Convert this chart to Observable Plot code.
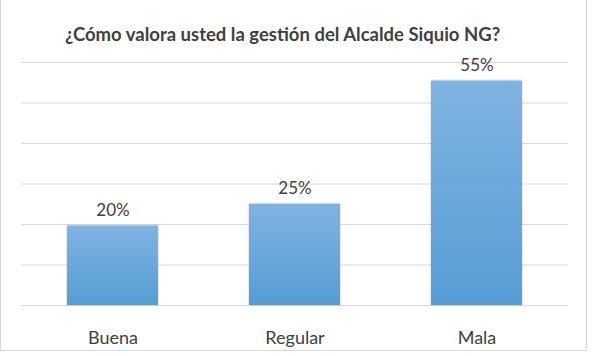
<!DOCTYPE html>
<html>
<head>
<meta charset="utf-8">
<script src="https://cdn.jsdelivr.net/npm/d3@7"></script>
<script src="https://cdn.jsdelivr.net/npm/@observablehq/plot@0.6"></script>
<style>
  html, body { margin: 0; padding: 0; background: #fff; }
  #wrap { position: relative; width: 595px; height: 356px; overflow: hidden; font-family: Lato, "Open Sans", sans-serif; }
  #frame { position: absolute; left: 0; top: 0; width: 587px; height: 351px; border: 1px solid #d9d9d9; border-top: none; box-sizing: border-box; }
  #title { position: absolute; left: 65px; top: 22px; height: 24px; line-height: 24px; font-weight: bold; font-size: 18.5px; color: #404040; white-space: nowrap; }
  #chart { position: absolute; left: 0; top: 50px; }
</style>
</head>
<body>
<div id="wrap">
  <div id="frame"></div>
  <div id="title">¿Cómo valora usted la gestión del Alcalde Siquio NG?</div>
  <div id="chart"></div>
</div>
<script>
const categories = ["Buena", "Regular", "Mala"];
const values = [19.6, 25, 55.4];
const labels = ["20%", "25%", "55%"];
const yTicks = [0, 10, 20, 30, 40, 50, 60];

const data = categories.map((c, i) => ({cat: c, value: values[i], label: labels[i]}));

const svg = Plot.plot({
  width: 595,
  height: 306,
  marginTop: 12,
  marginLeft: 21,
  marginRight: 27,
  marginBottom: 51,
  style: {fontFamily: "Lato, 'Open Sans', sans-serif", fontSize: "17px", color: "#404040", background: "transparent"},
  x: {domain: categories, paddingInner: 0.5, paddingOuter: 0.25, align: 0.5, label: null},
  y: {domain: [0, 60], axis: null},
  marks: [
    Plot.gridY(yTicks, {stroke: "#d9d9d9", strokeOpacity: 1, strokeWidth: 1}),
    Plot.barY(data, {x: "cat", y: "value", fill: "url(#barGrad)", filter: null, style: "filter: drop-shadow(0px 0px 1px rgba(0,0,0,0.25))"}),
    Plot.text(data, {x: "cat", y: "value", text: "label", lineAnchor: "bottom", dy: -10, fontSize: 17, fill: "#404040"}),
    Plot.axisX({tickSize: 0, tickPadding: 26, fontSize: 18, label: null})
  ]
});

d3.select(svg).insert("defs", ":first-child").html(`
  <linearGradient id="barGrad" x1="0" y1="0" x2="0" y2="1">
    <stop offset="0%" stop-color="#80b3e1"/>
    <stop offset="100%" stop-color="#559dd5"/>
  </linearGradient>`);
d3.select(svg).selectAll("rect").style("filter", "drop-shadow(0px 0px 1px rgba(0,0,0,0.25))");

document.getElementById("chart").appendChild(svg);
</script>
</body>
</html>
